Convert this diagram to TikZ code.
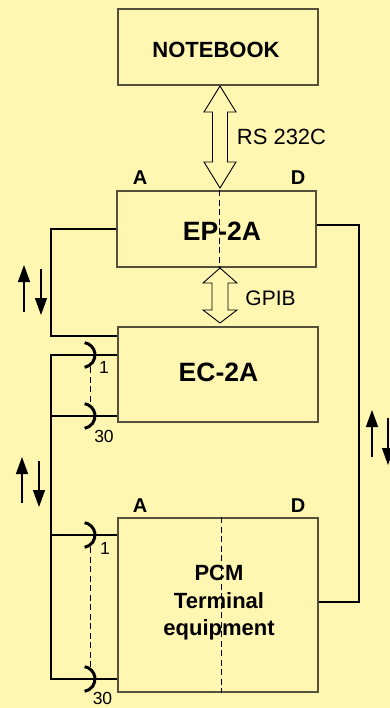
\documentclass[tikz,border=0pt]{standalone}
\usepackage{fontspec}
\setmainfont{Liberation Sans}
\usetikzlibrary{arrows.meta}
\definecolor{bg}{RGB}{255,246,178}
\definecolor{edge}{RGB}{85,80,60}
\begin{document}
\begin{tikzpicture}[x=1pt,y=-1pt,
  box/.style={draw=edge, line width=1.8pt, rectangle, inner sep=0pt},
  txt/.style={inner sep=0pt, text=black},
  bigbold/.style={txt, font=\bfseries\fontsize{26.5}{30}\selectfont},
  midbold/.style={txt, font=\bfseries\fontsize{22}{27.5}\selectfont, align=center},
  lbl/.style={txt, font=\fontsize{22}{26}\selectfont},
  endlbl/.style={txt, font=\bfseries\fontsize{20}{23}\selectfont},
  numlbl/.style={txt, font=\fontsize{17.5}{20}\selectfont},
  wire/.style={line width=1.4pt, black},
  dashline/.style={line width=1pt, black, dash pattern=on 6pt off 3.5pt},
  contact/.style={line width=3pt, black},
  hollow/.style={draw=black, line width=0.9pt, fill=bg, line join=miter},
  flow/.style={-{Triangle[length=17pt,width=12pt]}, line width=1.3pt, black}]
\fill[bg] (0,0) rectangle (390,708);
\useasboundingbox (0,0) rectangle (390,708);

% boxes
\node[box, minimum width=200pt, minimum height=76pt] (nb) at (218,47) {};
\node[box, minimum width=199pt, minimum height=76pt] (ep) at (216.5,229) {};
\node[box, minimum width=200pt, minimum height=95pt] (ec) at (218,374.5) {};
\node[box, minimum width=200pt, minimum height=174pt] (pcm) at (218,605) {};

% dashed centre lines
\coordinate (xe) at (219,0);
\coordinate (xp) at (221,0);
\draw[dashline] (xe |- ep.north) -- (xe |- ep.south);
\draw[dashline] (xp |- pcm.north) -- (xp |- pcm.south);

% box texts
\node[midbold] (nbt) at (216,49.5) {NOTEBOOK};
\node[bigbold] (ept) at (222,231) {EP-2A};
\node[bigbold] (ect) at (218.5,372.5) {EC-2A};
\node[midbold] (pcmt) at (219,602.8) {PCM\\Terminal\\equipment};

% A / D labels
\node[endlbl] (ea) at (140,177.5) {A};
\node[endlbl] (ed) at (298,177.5) {D};
\node[endlbl] (pa) at (140,505.5) {A};
\node[endlbl] (pd) at (298,505.5) {D};

% RS 232C hollow double arrow
\draw[hollow] (220,86) -- (236,112) -- (227.5,112) -- (227.5,162) -- (236,162)
  -- (220,188) -- (204,162) -- (212.5,162) -- (212.5,112) -- (204,112) -- cycle;
\node[lbl] (rs) at (281.5,137) {RS 232C};

% GPIB hollow double arrow
\draw[hollow] (220,268) -- (237,283) -- (228,283) -- (228,310) -- (237,310)
  -- (220,323) -- (203,310) -- (212,310) -- (212,283) -- (203,283) -- cycle;
\node[lbl, font=\fontsize{21}{25}\selectfont] (gp) at (270.5,298.3) {GPIB};

% left link EP-2A -> EC-2A
\coordinate (lk) at (51,336);
\draw[wire] (ep.west) -| (lk) -- (lk -| ec.west);

% contact bus
\coordinate (b1) at (51,355);
\coordinate (b30) at (51,416);
\coordinate (p1) at (51,535);
\coordinate (p30) at (51,679);
\draw[wire] (b1 -| ec.west) -- (b1) -- (p30) -- (p30 -| pcm.west);
\draw[wire] (b30) -- (b30 -| ec.west);
\draw[wire] (p1) -- (p1 -| pcm.west);
\foreach \c in {b1,b30,p1,p30}
  \draw[contact] ([xshift=31.5pt]\c) ++(-80:12.5pt) arc[start angle=-80,end angle=80,radius=12.5pt];
\draw[dashline] ([xshift=39.5pt,yshift=-12pt]b1) -- ([xshift=39.5pt,yshift=12pt]b30);
\draw[dashline] ([xshift=39.5pt,yshift=-12pt]p1) -- ([xshift=39.5pt,yshift=12pt]p30);
\node[numlbl] (n1a) at (104,367) {1};
\node[numlbl] (n30a) at (104,436.5) {30};
\node[numlbl] (n1b) at (105,548.5) {1};
\node[numlbl] (n30b) at (102.5,698) {30};

% right link EP-2A -> PCM
\coordinate (r1) at (359,225);
\coordinate (r2) at (359,602);
\draw[wire] (ep.east |- r1) -- (r1) -- (r2) -- (r2 -| pcm.east);

% direction arrows
\draw[flow] (24,312) -- (24,265);
\draw[flow] (41,269) -- (41,315);
\draw[flow] (22,503) -- (22,457);
\draw[flow] (39,461) -- (39,507);
\draw[flow] (372,457) -- (372,410);
\draw[flow] (388,418) -- (388,465);
\end{tikzpicture}
\end{document}
